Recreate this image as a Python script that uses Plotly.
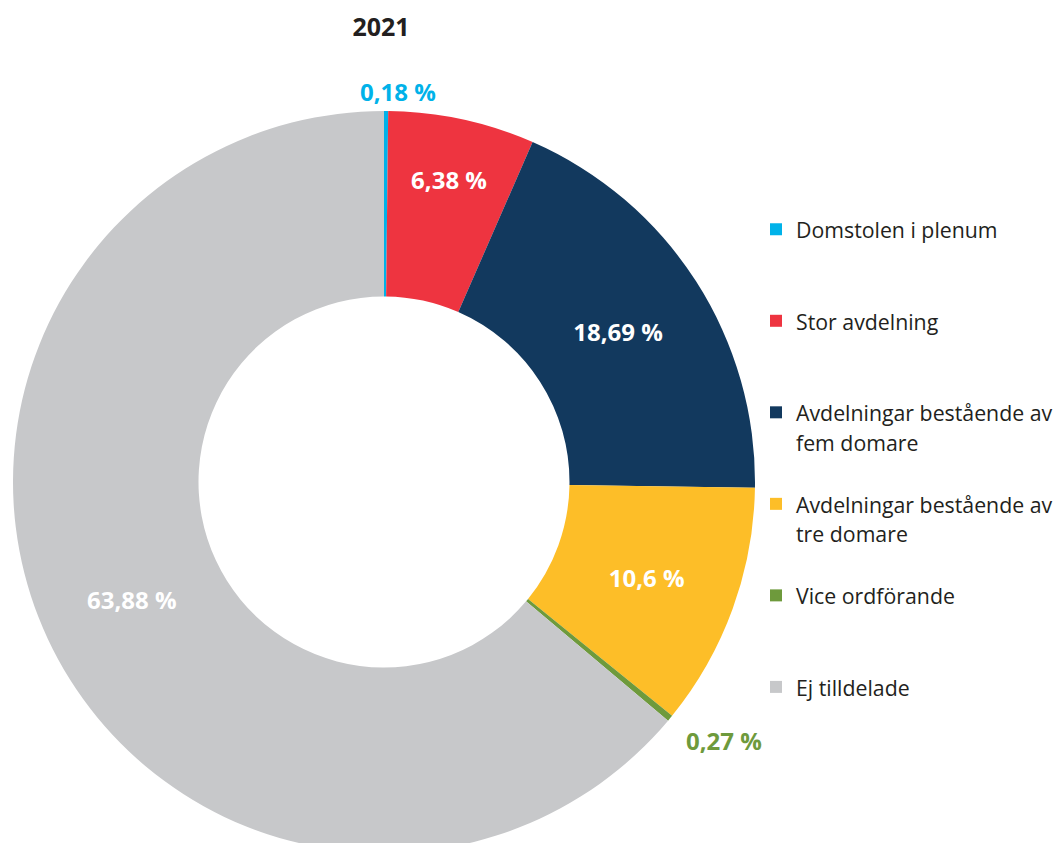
import math
import plotly.graph_objects as go

# Data
categories = [
    "Domstolen i plenum",
    "Stor avdelning",
    "Avdelningar bestående av fem domare",
    "Avdelningar bestående av tre domare",
    "Vice ordförande",
    "Ej tilldelade",
]
legend_labels = [
    "Domstolen i plenum",
    "Stor avdelning",
    "Avdelningar bestående av<br>fem domare",
    "Avdelningar bestående av<br>tre domare",
    "Vice ordförande",
    "Ej tilldelade",
]
values = [0.18, 6.38, 18.69, 10.6, 0.27, 63.88]
colors = ["#00B2E9", "#EE3440", "#12395E", "#FDBE28", "#6E9A3C", "#C7C8CA"]
title_text = "2021"

W, H = 1058, 860
CX, CY, R_OUT = 384, 482, 371

texts = [str(v).replace(".", ",") + " %" for v in values]
small = [v < 1 for v in values]
inside_texts = ["" if s else t for s, t in zip(small, texts)]
positions = ["none" if s else "inside" for s in small]

# pad legend entries to equal height (3 lines)
leg = []
for l in legend_labels:
    n = l.count("<br>") + 1
    t = l + "<br> " * (3 - n)
    leg.append('<span style="font-size:21.3px">' + t + "</span>")

fig = go.Figure(
    go.Pie(
        labels=leg,
        values=values,
        marker=dict(colors=colors, line=dict(width=0)),
        hole=0.5,
        sort=False,
        direction="clockwise",
        rotation=0,
        text=inside_texts,
        textinfo="text",
        textposition=positions,
        insidetextorientation="horizontal",
        insidetextfont=dict(family="Open Sans", size=24, color="white", weight="bold"),
        domain=dict(x=[(CX - R_OUT) / W, (CX + R_OUT) / W],
                    y=[(H - CY - R_OUT) / H, (H - CY + R_OUT) / H]),
        hoverinfo="skip",
    )
)

# outside labels for the thin slices, placed along the slice's mid-angle
total = sum(values)
cum = 0.0
label_gap = {0: (20, 12, 0), 4: (48, 17, 8)}  # radial gap, xshift, yshift
for i, v in enumerate(values):
    if small[i]:
        ang = 2 * math.pi * (cum + v / 2) / total
        gap, xs, ys = label_gap.get(i, (30, 0, 0))
        r = R_OUT + gap
        px = CX + r * math.sin(ang)
        py = CY - r * math.cos(ang)
        fig.add_annotation(
            x=px / W, y=1 - py / H, xref="paper", yref="paper",
            text="<b>" + texts[i] + "</b>", showarrow=False,
            xshift=xs, yshift=ys,
            xanchor="center", yanchor="middle",
            font=dict(family="Open Sans", size=24, color=colors[i]),
        )
    cum += v

fig.update_layout(
    width=W,
    height=H,
    margin=dict(l=0, r=0, t=0, b=0, autoexpand=False),
    paper_bgcolor="white",
    plot_bgcolor="white",
    font=dict(family="Open Sans", color="#231F20"),
    title=dict(
        text="<b>" + title_text + "</b>",
        x=381 / W,
        xanchor="center",
        y=1 - 27 / H,
        yanchor="middle",
        font=dict(family="Open Sans", size=25, color="#231F20"),
    ),
    legend=dict(
        x=756 / W,
        xanchor="left",
        y=1 - 208 / H,
        yanchor="top",
        valign="top",
        font=dict(family="Open Sans", size=22.7, color="#231F20"),
        bgcolor="rgba(0,0,0,0)",
        itemclick=False,
    ),
    showlegend=True,
)

fig.write_html(
    "out.html",
    config={"displayModeBar": False},
    post_script="document.body.style.margin='0';document.body.style.overflow='hidden';",
)
